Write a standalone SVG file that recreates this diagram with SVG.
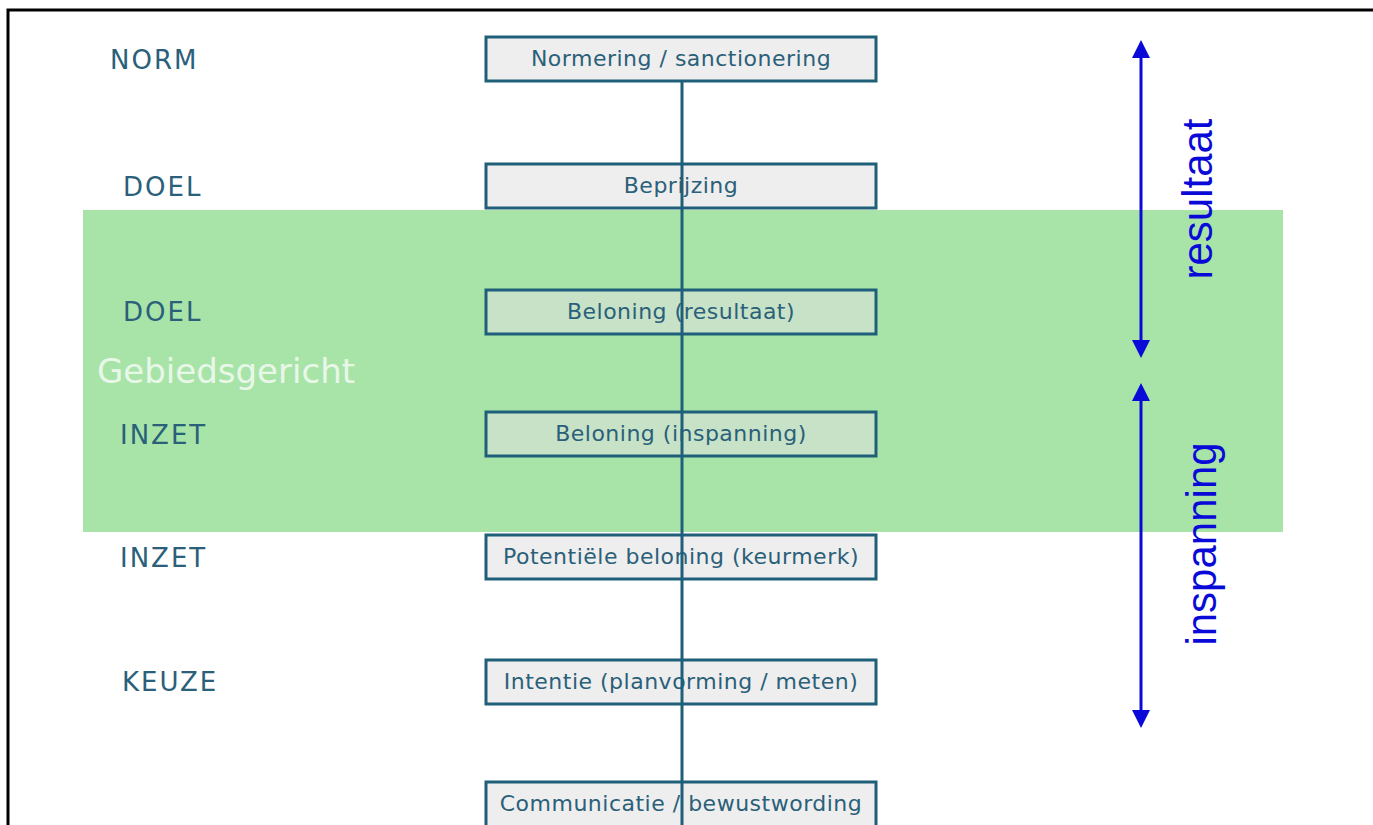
<svg xmlns="http://www.w3.org/2000/svg" width="1373" height="825" viewBox="0 0 1373 825">
<defs>
<marker id="ah" viewBox="0 0 10 10" refX="5" refY="5" markerWidth="6" markerHeight="6" markerUnits="strokeWidth" orient="auto-start-reverse">
<path d="M0,0 L10,5 L0,10 z" fill="#0a0ad8"/>
</marker>
<style>
.box{fill:#e0e0e0;fill-opacity:0.55;stroke:#1f5f7a;stroke-width:3}
.bt{font-family:"DejaVu Sans",Verdana,sans-serif;font-size:22px;letter-spacing:0.5px;fill:#2a6079;text-anchor:middle}
.lab{font-family:"DejaVu Sans",Verdana,sans-serif;font-size:26px;letter-spacing:2px;fill:#2a6079}
.arr{stroke:#0a0ad8;stroke-width:3;fill:none}
.side{font-family:"Liberation Sans",Arial,sans-serif;font-size:42px;fill:#0a0ad8;text-anchor:middle}
</style>
</defs>
<rect width="1373" height="825" fill="#ffffff"/>
<path d="M8,825 V10 H1373" fill="none" stroke="#000" stroke-width="3"/>
<rect id="band" x="83" y="210" width="1200" height="322" fill="#a8e4a8"/>
<text x="97" y="383" font-family="'DejaVu Sans',Verdana,sans-serif" font-size="34" fill="#e9f7e9">Gebiedsgericht</text>
<g id="labels">
<text class="lab" x="110" y="69">NORM</text>
<text class="lab" x="123" y="196">DOEL</text>
<text class="lab" x="123" y="321">DOEL</text>
<text class="lab" x="120" y="444">INZET</text>
<text class="lab" x="120" y="567">INZET</text>
<text class="lab" x="122" y="691">KEUZE</text>
</g>
<g id="n1"><rect class="box" x="486" y="37" width="390" height="44"/><text class="bt" x="681" y="66">Normering / sanctionering</text></g>
<g id="n2"><rect class="box" x="486" y="164" width="390" height="44"/><text class="bt" x="681" y="193">Beprijzing</text></g>
<g id="n3"><rect class="box" x="486" y="290" width="390" height="44"/><text class="bt" x="681" y="319">Beloning (resultaat)</text></g>
<g id="n4"><rect class="box" x="486" y="412" width="390" height="44"/><text class="bt" x="681" y="441">Beloning (inspanning)</text></g>
<g id="n5"><rect class="box" x="486" y="535" width="390" height="44"/><text class="bt" x="681" y="564">Potentiële beloning (keurmerk)</text></g>
<g id="n6"><rect class="box" x="486" y="660" width="390" height="44"/><text class="bt" x="681" y="689">Intentie (planvorming / meten)</text></g>
<g id="n7"><rect class="box" x="486" y="782" width="390" height="46"/><text class="bt" x="681" y="811">Communicatie / bewustwording</text></g>
<g id="connectors">
<line x1="682" y1="81" x2="682" y2="825" stroke="#1f5f7a" stroke-width="3"/>
<line class="arr" x1="1141" y1="49" x2="1141" y2="349" marker-start="url(#ah)" marker-end="url(#ah)"/>
<line class="arr" x1="1141" y1="392" x2="1141" y2="719" marker-start="url(#ah)" marker-end="url(#ah)"/>
</g>
<text class="side" transform="translate(1212,199) rotate(-90)">resultaat</text>
<text class="side" transform="translate(1216,544) rotate(-90)">inspanning</text>
</svg>
